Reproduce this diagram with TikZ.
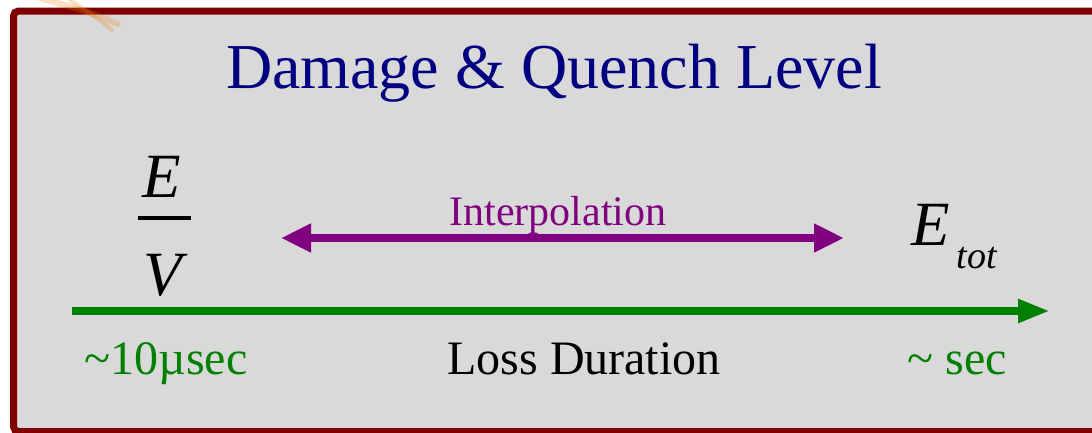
\documentclass[tikz,border=0pt]{standalone}
\usepackage{fontspec}
\setmainfont{Liberation Serif}
\usetikzlibrary{arrows.meta}
\definecolor{frameRed}{HTML}{800000}
\definecolor{panelGray}{HTML}{D9D9D9}
\definecolor{titleBlue}{HTML}{000080}
\definecolor{interpPurple}{HTML}{800080}
\definecolor{axisGreen}{HTML}{008000}
\tikzset{
  panel/.style={draw=frameRed, line width=7pt, fill=panelGray, rounded corners=5pt},
  title/.style={text=titleBlue, font=\fontsize{64}{76}\selectfont, anchor=base, inner sep=0pt},
  label/.style={font=\fontsize{48}{58}\selectfont, anchor=base, inner sep=0pt},
  interp/.style={text=interpPurple, font=\fontsize{42}{50}\selectfont, anchor=base, inner sep=0pt},
  symbol/.style={font=\fontsize{63}{76}\selectfont\itshape, anchor=base, inner sep=0pt},
  subsym/.style={font=\fontsize{38}{46}\selectfont\itshape, anchor=base, inner sep=0pt},
  interparrow/.style={draw=interpPurple, line width=8pt,
    {Triangle[length=30pt,width=27pt]}-{Triangle[length=30pt,width=27pt]}},
  axisarrow/.style={draw=axisGreen, line width=8pt, -{Triangle[length=32pt,width=22pt]}},
  fracbar/.style={draw=black, line width=3.5pt},
  smudge/.style={draw=orange!70!brown, line cap=round, opacity=0.25}
}
\begin{document}
\begin{tikzpicture}[x=1pt,y=-1pt]
  \useasboundingbox (0,0) rectangle (1092,432);
  \clip (0,0) rectangle (1092,432);
  \fill[white] (0,0) rectangle (1092,432);

  % framed panel
  \draw[panel] (13.5,11) rectangle (1110,431.5);

  % faint orange streak in the top-left corner
  \draw[smudge, line width=6pt] (40,-2) .. controls (70,6) and (95,14) .. (118,24);
  \draw[smudge, line width=4pt] (70,0) .. controls (88,12) and (100,20) .. (112,30);

  % title
  \node[title] (title) at (554,88) {Damage \& Quench Level};

  % energy per volume
  \node[symbol] (E) at (162,197) {E};
  \node[symbol] (V) at (163,295) {V};
  \coordinate (barL) at (138,218);
  \coordinate (barR) at (191,218);
  \draw[fracbar] (barL) -- (barR);

  % total energy
  \node[symbol] (Etot) at (931,245) {E};
  \node[subsym] (tot) at (977,268) {tot};

  % interpolation arrow
  \coordinate (iL) at (281,238);
  \coordinate (iR) at (844,238);
  \draw[interparrow] (iL) -- (iR);
  \node[interp] (interp) at (558,225) {Interpolation};

  % time axis
  \coordinate (aL) at (72,311);
  \coordinate (aR) at (1050,311);
  \draw[axisarrow] (aL) -- (aR);

  \node[label, text=axisGreen] (tmin) at (166,374) {\textasciitilde10µsec};
  \node[label] (dur) at (584,374) {Loss Duration};
  \node[label, text=axisGreen] (tmax) at (957,374) {\textasciitilde\ sec};
\end{tikzpicture}
\end{document}
